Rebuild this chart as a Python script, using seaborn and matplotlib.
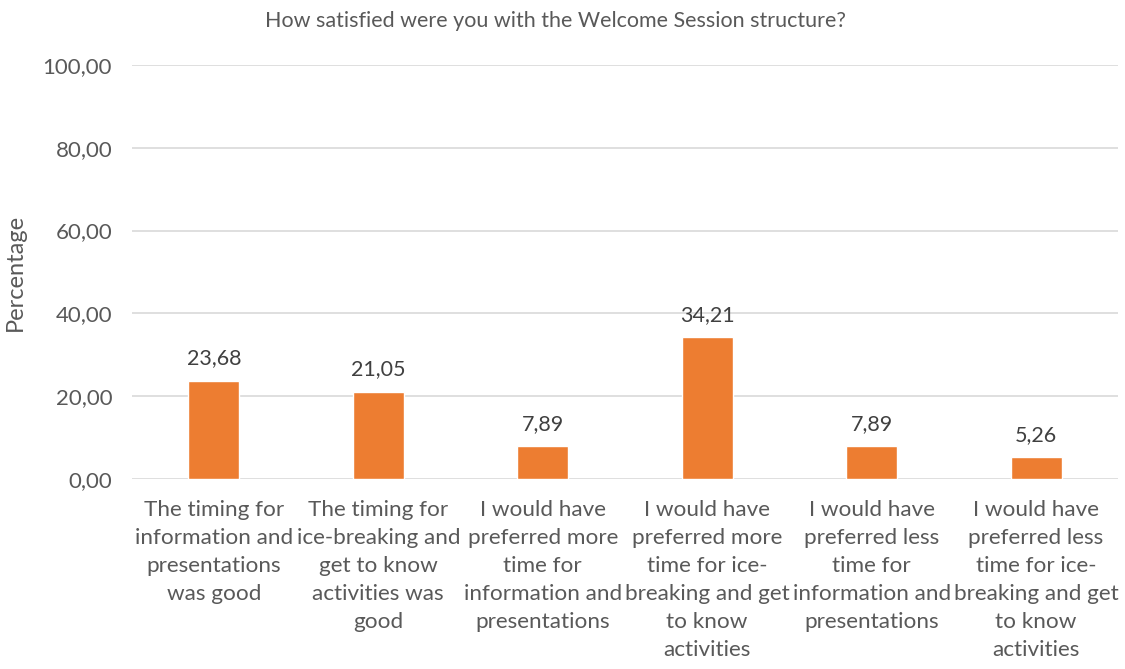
import matplotlib
matplotlib.use("Agg")
import matplotlib.pyplot as plt
import seaborn as sns
import pandas as pd

# Chart data
categories = [
    "The timing for\ninformation and\npresentations\nwas good",
    "The timing for\nice-breaking and\nget to know\nactivities was\ngood",
    "I would have\npreferred more\ntime for\ninformation and\npresentations",
    "I would have\npreferred more\ntime for ice-\nbreaking and get\nto know\nactivities",
    "I would have\npreferred less\ntime for\ninformation and\npresentations",
    "I would have\npreferred less\ntime for ice-\nbreaking and get\nto know\nactivities",
]
percentages = [23.68, 21.05, 7.89, 34.21, 7.89, 5.26]
y_ticks = [0, 20, 40, 60, 80, 100]

df = pd.DataFrame({"category": categories, "percentage": percentages})

sns.set_style("white")
plt.rcParams["font.family"] = ["Lato", "DejaVu Sans"]

fig = plt.figure(figsize=(11.25, 6.69), dpi=100)
ax = fig.add_axes([0.117, 0.284, 0.877, 0.619])

sns.barplot(data=df, x="category", y="percentage", color="#ED7D31",
            width=0.31, saturation=1, ax=ax, zorder=3)

ax.set_ylim(0, 100)
ax.set_yticks(y_ticks)
ax.set_yticklabels([f"{v:.2f}".replace(".", ",") for v in y_ticks],
                   fontsize=16, color="#595959")
ax.grid(axis="y", color="#D9D9D9", linewidth=1.2, zorder=0)
ax.tick_params(axis="both", length=0)
ax.tick_params(axis="y", pad=14)
ax.tick_params(axis="x", pad=15)
plt.setp(ax.get_xticklabels(), fontsize=16.2, color="#595959", linespacing=1.5)
for s in ax.spines.values():
    s.set_visible(False)

for i, v in enumerate(percentages):
    ax.text(i, v + 3.0, f"{v:.2f}".replace(".", ","), ha="center", va="bottom",
            fontsize=15.5, color="#404040")

ax.set_xlabel("")
ax.set_ylabel("Percentage", fontsize=17, color="#595959", labelpad=12)
fig.text(0.494, 0.969, "How satisfied were you with the Welcome Session structure?",
         ha="center", va="center", fontsize=15.5, color="#595959")

fig.savefig("out.png", dpi=100)
